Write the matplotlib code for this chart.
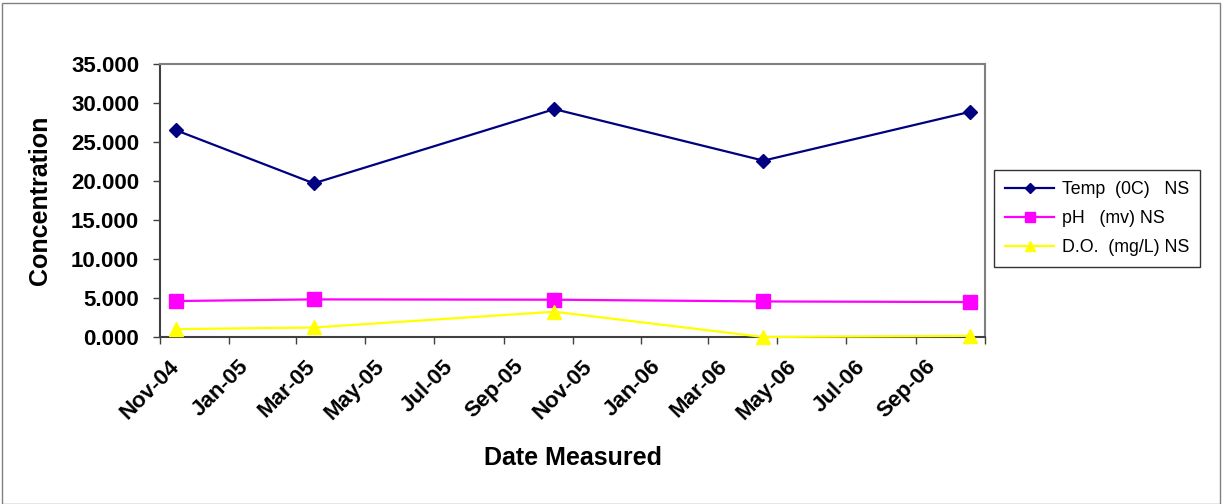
import datetime as dt
import matplotlib
matplotlib.use("Agg")
import matplotlib.pyplot as plt
import matplotlib.dates as mdates
import matplotlib.transforms as mtransforms
from matplotlib.patches import Rectangle

plt.rcParams['font.family'] = ['Liberation Sans', 'DejaVu Sans']

# sample dates and measured values
dates = [dt.date(2004, 11, 15), dt.date(2005, 3, 17), dt.date(2005, 10, 16),
         dt.date(2006, 4, 19), dt.date(2006, 10, 19)]
temp = [26.52, 19.71, 29.22, 22.62, 28.88]
ph = [4.63, 4.84, 4.80, 4.58, 4.50]
do = [1.03, 1.24, 3.26, 0.02, 0.17]

series_names = ["Temp  (0C)   NS", "pH   (mv) NS", "D.O.  (mg/L) NS"]

fig = plt.figure(figsize=(12.22, 5.04), dpi=100)
ax = fig.add_axes([0.131, 0.331, 0.675, 0.542])

ax.plot(dates, temp, color='#000080', marker='D', markersize=7.5, lw=1.6,
        label=series_names[0], clip_on=False, zorder=3)
ax.plot(dates, ph, color='#FF00FF', marker='s', markersize=9.5, lw=1.6,
        label=series_names[1], clip_on=False, zorder=3)
ax.plot(dates, do, color='#FFFF00', marker='^', markersize=10, lw=1.6,
        label=series_names[2], clip_on=False, zorder=3)

ax.set_ylim(0, 35)
ax.set_yticks(range(0, 36, 5))
ax.yaxis.set_major_formatter(plt.FormatStrFormatter('%.3f'))
ax.set_xlim(dt.date(2004, 11, 1), dt.date(2006, 11, 1))
ax.xaxis.set_major_locator(mdates.MonthLocator(bymonth=[1, 3, 5, 7, 9, 11]))
ax.xaxis.set_major_formatter(mdates.DateFormatter('%b-%y'))

ax.tick_params(axis='y', direction='out', length=5, width=1, color='#404040', pad=10)
ax.tick_params(axis='x', direction='out', length=5, width=1, color='#404040', pad=2)

# excel puts the rotated labels a bit right/below the tick
shift = mtransforms.ScaledTranslation(0.09, -0.09, fig.dpi_scale_trans)
for lab in ax.get_xticklabels():
    lab.set_rotation(45)
    lab.set_ha('right')
    lab.set_va('top')
    lab.set_rotation_mode('anchor')
    lab.set_fontweight('bold')
    lab.set_fontsize(16)
    lab.set_transform(lab.get_transform() + shift)
for lab in ax.get_yticklabels():
    lab.set_fontweight('bold')
    lab.set_fontsize(16)
# hide the label at the right end of the axis
ax.get_xticklabels()[-1].set_visible(False)

for s in ax.spines.values():
    s.set_color('#808080')
    s.set_linewidth(1.5)
ax.spines['bottom'].set_color('#404040')
ax.spines['left'].set_color('#404040')

ax.set_ylabel('Concentration', fontsize=18, fontweight='bold', labelpad=14)
ax.set_xlabel('Date Measured', fontsize=18, fontweight='bold', labelpad=16)

leg = ax.legend(loc='center left', bbox_to_anchor=(1.011, 0.434), fontsize=12.8,
                frameon=True, fancybox=False, borderpad=0.6, labelspacing=0.68,
                borderaxespad=0, handlelength=2.8, handletextpad=0.45, markerscale=0.7)
leg.get_frame().set_edgecolor('black')
leg.get_frame().set_linewidth(1)

fig.patches.append(Rectangle((0.002, 0.0), 0.996, 0.995, transform=fig.transFigure,
                             fill=False, edgecolor='#808080', lw=1))

fig.savefig('out.png', dpi=100)
